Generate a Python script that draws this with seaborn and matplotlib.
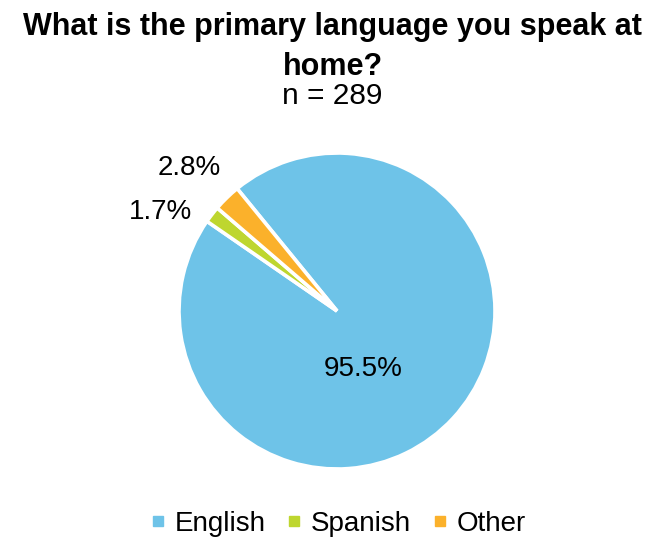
import matplotlib
matplotlib.use("Agg")
import matplotlib.pyplot as plt
from matplotlib.lines import Line2D
import numpy as np
import seaborn as sns

# Survey responses: primary language spoken at home
categories = ["English", "Spanish", "Other"]
shares = [95.5, 1.7, 2.8]
pct_labels = ["95.5%", "1.7%", "2.8%"]
sample_size = 289

sns.set_theme(style="white")
plt.rcParams["font.family"] = ["Liberation Sans", "DejaVu Sans"]
plt.rcParams["text.color"] = "black"

colors = sns.color_palette(["#6EC3E8", "#BED62F", "#FBB12B"])

fig = plt.figure(figsize=(6.65, 5.38), dpi=100)
fig.patch.set_facecolor("white")

# Pie axes: square box in pixels
W, H = 665, 538
cx, cy, r = 337, 311, 158
ax = fig.add_axes([(cx - r) / W, (H - cy - r) / H, 2 * r / W, 2 * r / H])

wedges, _ = ax.pie(
    shares,
    colors=colors,
    startangle=129.2,
    counterclock=False,
    radius=1.0,
    wedgeprops=dict(edgecolor="white", linewidth=2.6),
)
ax.set_xlim(-1, 1)
ax.set_ylim(-1, 1)
ax.set_aspect("equal")
ax.axis("off")

# Percentage labels (radius, angle offset from the wedge middle, in degrees)
label_place = [(0.40, -22.8), (1.28, 8.5), (1.30, 1.6)]
for w, txt, (rad, dang) in zip(wedges, pct_labels, label_place):
    mid = np.deg2rad((w.theta1 + w.theta2) / 2 + dang)
    ax.text(rad * np.cos(mid), rad * np.sin(mid), txt, ha="center", va="center",
            fontsize=20, color="black", clip_on=False)

# Title block
fig.text(0.5, 1 - 35 / H, "What is the primary language you speak at", ha="center",
         va="baseline", fontsize=22, fontweight="bold", color="black")
fig.text(0.5, 1 - 75 / H, "home?", ha="center", va="baseline", fontsize=22,
         fontweight="bold", color="black")
fig.text(0.5, 1 - 104 / H, f"n = {sample_size}", ha="center", va="baseline",
         fontsize=21.5, color="black")

# Legend with small square markers
handles = [Line2D([0], [0], marker="s", linestyle="none", markersize=7,
                  markerfacecolor=c, markeredgecolor=c) for c in colors]
leg = fig.legend(handles, categories, loc="center", bbox_to_anchor=(0.508, 1 - 524 / H),
                 ncol=3, frameon=False, fontsize=20, handlelength=0.6,
                 handletextpad=0.3, columnspacing=0.75, borderpad=0)
for t in leg.get_texts():
    t.set_color("black")

fig.savefig("out.png", dpi=100, facecolor="white")
